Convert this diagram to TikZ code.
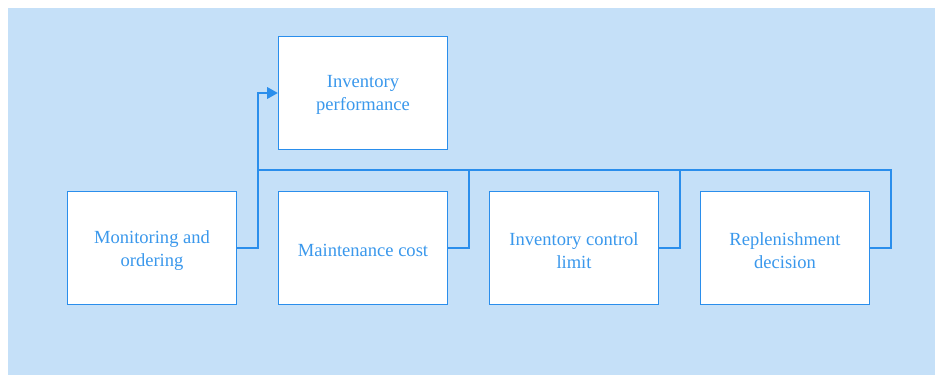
\documentclass[tikz,border=0pt]{standalone}
\usepackage{fontspec}
\setmainfont{Liberation Serif}
\usetikzlibrary{arrows.meta}
\definecolor{panelbg}{RGB}{197,224,248}
\definecolor{edgeblue}{RGB}{42,142,236}
\definecolor{labelblue}{RGB}{58,152,236}
\tikzset{
  block/.style={draw=edgeblue, line width=0.9pt, fill=white, inner sep=0pt,
    minimum width=126.75pt, minimum height=84.75pt},
  lbl/.style={align=center, text=labelblue, inner sep=0pt, yshift=-1.8pt,
    font=\fontsize{13.9pt}{17.25pt}\selectfont},
  link/.style={draw=edgeblue, line width=1.5pt},
}
\begin{document}
\begin{tikzpicture}[x=0.75pt, y=-0.75pt]
  % canvas and panel
  \useasboundingbox (0,0) rectangle (935,375);
  \fill[panelbg] (8,8) rectangle (935,375);

  % boxes
  \node[block, label={[lbl]center:{Inventory\\performance}}]      (perf)  at (363,93)  {};
  \node[block, label={[lbl]center:{Monitoring and\\ordering}}]    (mon)   at (152,248) {};
  \node[block, label={[lbl]center:{Maintenance cost}}]            (maint) at (363,248) {};
  \node[block, label={[lbl]center:{Inventory control\\limit}}]    (ctrl)  at (574,248) {};
  \node[block, label={[lbl]center:{Replenishment\\decision}}]     (repl)  at (785,248) {};

  % collecting bus
  \coordinate (bus) at (257.5,170);

  % connectors
  \draw[link, -{Triangle[length=8pt, width=8.5pt]}] (mon.east) -- ++(21,0) |- (perf.west);
  \draw[link] (maint.east) -- ++(21,0) |- (bus);
  \draw[link] (ctrl.east) -- ++(21,0) |- (bus);
  \draw[link] (repl.east) -- ++(21,0) |- (bus);
\end{tikzpicture}
\end{document}
